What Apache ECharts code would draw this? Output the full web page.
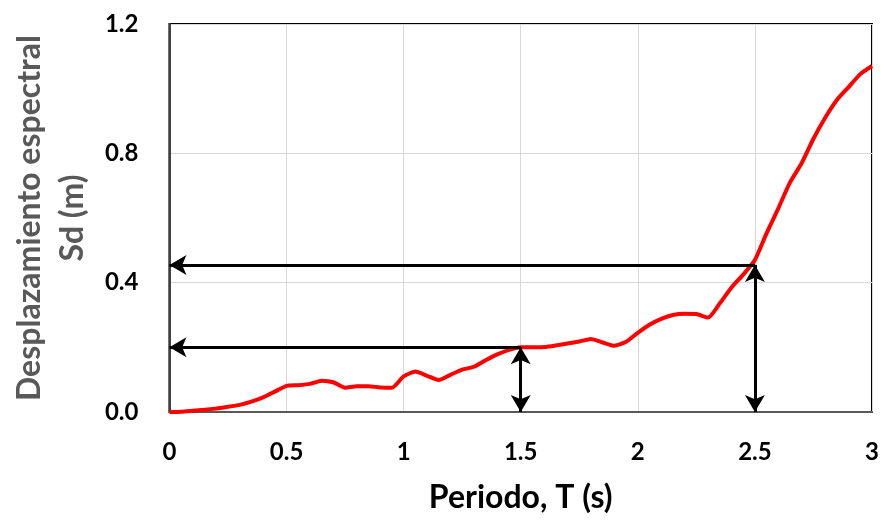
<!DOCTYPE html>
<html>
<head>
<meta charset="utf-8">
<script src="https://cdn.jsdelivr.net/npm/echarts@6/dist/echarts.min.js"></script>
<style>
  html, body { margin: 0; padding: 0; background: #fff; }
  #chart { width: 882px; height: 520px; }
</style>
</head>
<body>
<div id="chart"></div>
<script>
// Spectral displacement Sd (m) against period T (s)
const periods = [0, 0.05, 0.1, 0.15, 0.2, 0.25, 0.3, 0.35, 0.4, 0.45,
  0.5, 0.55, 0.6, 0.65, 0.7, 0.75, 0.8, 0.85, 0.9, 0.95,
  1.0, 1.05, 1.1, 1.15, 1.2, 1.25, 1.3, 1.35, 1.4, 1.45,
  1.5, 1.55, 1.6, 1.65, 1.7, 1.75, 1.8, 1.85, 1.9, 1.95,
  2.0, 2.05, 2.1, 2.15, 2.2, 2.25, 2.3, 2.35, 2.4, 2.45,
  2.5, 2.55, 2.6, 2.65, 2.7, 2.75, 2.8, 2.85, 2.9, 2.95, 3.0];
const sd = [0, 0.001, 0.004, 0.007, 0.011, 0.016, 0.022, 0.032, 0.045, 0.063,
  0.081, 0.083, 0.087, 0.097, 0.092, 0.075, 0.080, 0.080, 0.076, 0.075,
  0.110, 0.125, 0.112, 0.099, 0.115, 0.131, 0.140, 0.160, 0.178, 0.192,
  0.200, 0.200, 0.201, 0.206, 0.212, 0.218, 0.226, 0.215, 0.205, 0.217,
  0.245, 0.270, 0.288, 0.300, 0.304, 0.303, 0.292, 0.336, 0.385, 0.425,
  0.470, 0.553, 0.630, 0.710, 0.770, 0.845, 0.910, 0.965, 1.005, 1.045, 1.070];

// Reading guides: [T, Sd] for each marked period
const guidePoints = [[1.5, 0.2], [2.5, 0.455]];

const xTicks = [0, 0.5, 1, 1.5, 2, 2.5, 3];
const yTicks = [0, 0.4, 0.8, 1.2];

const font = 'Lato, "Open Sans", sans-serif';
const chart = echarts.init(document.getElementById('chart'));

const guideLines = [];
guidePoints.forEach(([t, v]) => {
  // horizontal arrow to the Sd axis
  guideLines.push([
    { coord: [t, v], symbol: 'none' },
    { coord: [0, v], symbol: 'arrow' }
  ]);
  // vertical double arrow down to the T axis
  guideLines.push([
    { coord: [t, v], symbol: 'arrow' },
    { coord: [t, 0], symbol: 'arrow' }
  ]);
});

chart.setOption({
  animation: false,
  grid: {
    left: 168, right: 10, top: 24, bottom: 108,
    show: true, borderColor: '#000', borderWidth: 2, backgroundColor: 'transparent'
  },
  xAxis: {
    type: 'value',
    min: 0, max: 3, interval: 0.5,
    name: 'Periodo, T (s)',
    nameLocation: 'middle',
    nameGap: 70,
    nameTextStyle: { fontFamily: font, fontWeight: 'bold', fontSize: 32, color: '#000' },
    axisLine: { show: true, lineStyle: { color: '#595959', width: 2 } },
    axisTick: { show: false },
    axisLabel: {
      margin: 28, fontFamily: font, fontWeight: 'bold', fontSize: 24, color: '#000',
      formatter: v => xTicks.includes(v) ? String(v) : ''
    },
    splitLine: { show: true, lineStyle: { color: '#d9d9d9', width: 1 } }
  },
  yAxis: {
    type: 'value',
    min: 0, max: 1.2, interval: 0.4,
    name: 'Desplazamiento espectral\nSd (m)',
    nameLocation: 'middle',
    nameGap: 71,
    nameTextStyle: { fontFamily: font, fontWeight: 'bold', fontSize: 32, color: '#595959', lineHeight: 43 },
    axisLine: { show: true, lineStyle: { color: '#404040', width: 2 } },
    axisTick: { show: false },
    axisLabel: {
      margin: 31, fontFamily: font, fontWeight: 'bold', fontSize: 24, color: '#000',
      formatter: v => yTicks.some(t => Math.abs(t - v) < 1e-9) ? v.toFixed(1) : ''
    },
    splitLine: { show: true, lineStyle: { color: '#d9d9d9', width: 1 } }
  },
  series: [{
    type: 'line',
    data: periods.map((t, i) => [t, sd[i]]),
    showSymbol: false,
    smooth: 0.2,
    lineStyle: { color: '#ff0000', width: 4 },
    z: 3,
    markLine: {
      silent: true,
      symbolSize: [15, 17],
      label: { show: false },
      lineStyle: { color: '#000', width: 3, type: 'solid' },
      emphasis: { disabled: true },
      data: guideLines,
      z: 4
    }
  }]
});
</script>
</body>
</html>
